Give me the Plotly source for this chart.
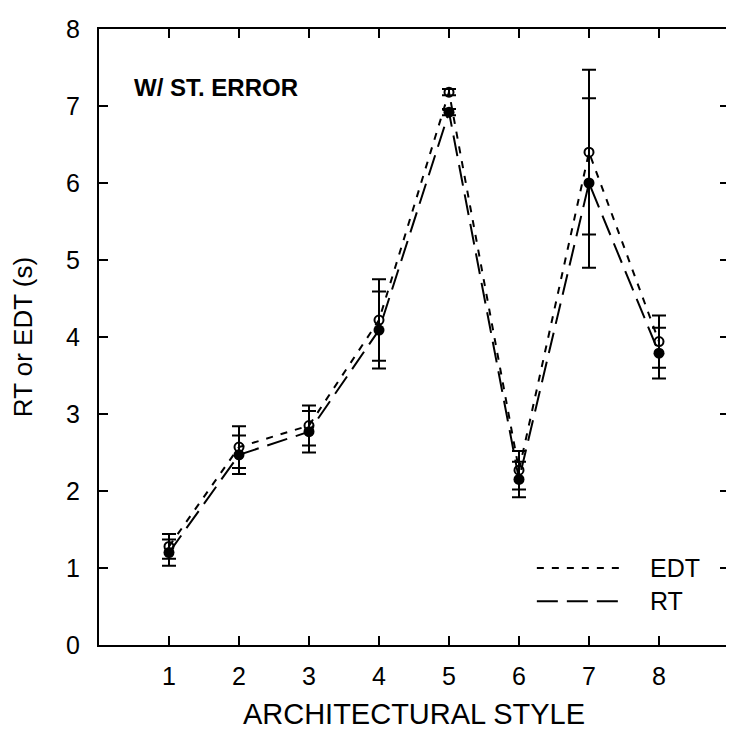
import plotly.graph_objects as go

# architectural style index
styles = [1, 2, 3, 4, 5, 6, 7, 8]

# early decay time (open circles) and its standard error
edt = [1.28, 2.57, 2.85, 4.22, 7.18, 2.27, 6.40, 3.94]
edt_err = [0.16, 0.27, 0.26, 0.53, 0.04, 0.25, 1.07, 0.34]

# reverberation time (filled circles) and its standard error
rt = [1.20, 2.47, 2.77, 4.09, 6.92, 2.15, 6.00, 3.79]
rt_err = [0.17, 0.25, 0.27, 0.50, 0.04, 0.23, 1.10, 0.33]

x_ticks = [1, 2, 3, 4, 5, 6, 7, 8]
y_ticks = [0, 1, 2, 3, 4, 5, 6, 7, 8]

legend_names = ["EDT", "RT"]

FONT = "Liberation Sans, Arial, sans-serif"
EDT_DASH = "7px,8px"
RT_DASH = "21px,9px"

fig = go.Figure()

# dashed lines
fig.add_trace(go.Scatter(x=styles, y=edt, mode="lines", name="EDT",
                         line=dict(color="black", width=2, dash=EDT_DASH)))
fig.add_trace(go.Scatter(x=styles, y=rt, mode="lines", name="RT",
                         line=dict(color="black", width=2, dash=RT_DASH)))

# markers with error bars
fig.add_trace(go.Scatter(x=styles, y=edt, mode="markers",
                         marker=dict(symbol="circle-open", size=9, color="black",
                                     line=dict(width=2, color="black")),
                         error_y=dict(type="data", array=edt_err, visible=True,
                                      color="black", thickness=2, width=7)))
fig.add_trace(go.Scatter(x=styles, y=rt, mode="markers",
                         marker=dict(symbol="circle", size=11, color="black"),
                         error_y=dict(type="data", array=rt_err, visible=True,
                                      color="black", thickness=2, width=7)))

# hand-drawn legend (long line samples like the original)
for name, dash, ly in zip(legend_names, [EDT_DASH, RT_DASH], [0.125, 0.071]):
    fig.add_shape(type="line", xref="paper", yref="paper",
                  x0=0.695, x1=0.828, y0=ly, y1=ly,
                  line=dict(color="black", width=2, dash=dash))
    fig.add_annotation(text=name, xref="paper", yref="paper", x=0.872, y=ly,
                       xanchor="left", yanchor="middle", showarrow=False,
                       font=dict(family=FONT, size=25, color="black"))

fig.add_annotation(text="<b>W/ ST. ERROR</b>", xref="paper", yref="paper",
                   x=0.053, y=0.905, xanchor="left", yanchor="middle",
                   showarrow=False, font=dict(family=FONT, size=24, color="black"))

axis_common = dict(
    showline=True, linecolor="black", linewidth=2, mirror="allticks",
    ticks="inside", ticklen=9, tickwidth=2, tickcolor="black",
    showgrid=False, zeroline=False,
    tickfont=dict(family=FONT, size=25, color="black"),
)

fig.update_xaxes(range=[0, 9], tickvals=x_ticks, ticklabelstandoff=8,
                 title=dict(text="ARCHITECTURAL STYLE", standoff=15,
                            font=dict(family=FONT, size=29, color="black")),
                 **axis_common)
fig.update_yaxes(range=[0, 8], tickvals=y_ticks, ticklabelstandoff=12,
                 title=dict(text="RT or EDT (s)", standoff=26,
                            font=dict(family=FONT, size=26, color="black")),
                 **axis_common)

# the page body adds an 8px margin, so the figure is 8px smaller
fig.update_layout(
    width=726, height=737,
    margin=dict(l=91, r=3, t=21, b=100),
    paper_bgcolor="white", plot_bgcolor="white",
    showlegend=False,
)

fig.write_html("out.html")
